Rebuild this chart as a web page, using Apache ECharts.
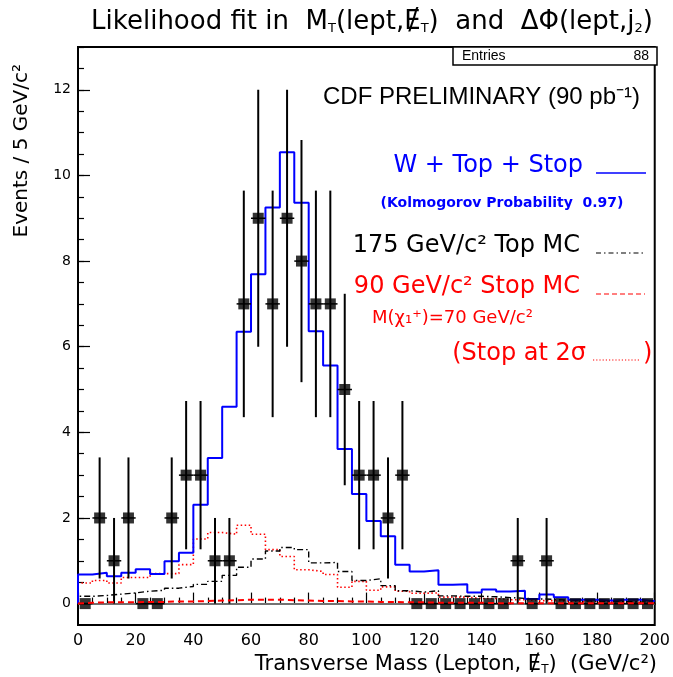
<!DOCTYPE html>
<html lang="en">
<head>
<meta charset="UTF-8">
<title>Likelihood fit in MT and dPhi</title>
<script src="https://cdn.jsdelivr.net/npm/echarts@6.0.0/dist/echarts.min.js"></script>
<style>
  html, body { margin: 0; padding: 0; background: #fff; }
  #chart { width: 673px; height: 677px; }
</style>
</head>
<body>
<div id="chart"></div>
<script>
// 40 bins of 5 GeV/c^2 from 0 to 200
var BIN_WIDTH = 5;

// observed events per bin
var dataCounts = [0, 2, 1, 2, 0, 0, 2, 3, 3, 1, 1, 7, 9, 7, 9, 8, 7, 7, 5, 3,
                  3, 2, 3, 0, 0, 0, 0, 0, 0, 0, 1, 0, 1, 0, 0, 0, 0, 0, 0, 0];

// W + Top + Stop fit
var fitTotal = [0.68, 0.72, 0.64, 0.72, 0.80, 0.69, 0.99, 1.19, 2.31, 3.40,
                4.60, 6.35, 7.69, 9.25, 10.54, 9.36, 6.36, 5.56, 3.61, 2.56,
                1.93, 1.57, 0.91, 0.75, 0.78, 0.44, 0.45, 0.26, 0.33, 0.28,
                0.30, 0.11, 0.21, 0.15, 0.09, 0.09, 0.07, 0.09, 0.09, 0.06];

// 175 GeV/c2 top MC
var topMC = [0.17, 0.19, 0.22, 0.25, 0.29, 0.31, 0.36, 0.40, 0.45, 0.52,
             0.66, 0.85, 1.04, 1.23, 1.31, 1.26, 0.95, 0.96, 0.75, 0.54,
             0.58, 0.42, 0.30, 0.27, 0.30, 0.18, 0.17, 0.17, 0.16, 0.14,
             0.12, 0.11, 0.10, 0.08, 0.07, 0.06, 0.05, 0.05, 0.04, 0.04];

// 90 GeV/c2 stop MC
var stopMC = [0.02, 0.03, 0.03, 0.03, 0.04, 0.04, 0.05, 0.05, 0.06, 0.07,
              0.08, 0.09, 0.09, 0.09, 0.08, 0.07, 0.06, 0.06, 0.05, 0.05,
              0.04, 0.04, 0.03, 0.03, 0.02, 0.02, 0.02, 0.02, 0.01, 0.01,
              0.01, 0.01, 0.01, 0.01, 0.01, 0.01, 0.01, 0.01, 0.01, 0.01];

// stop at 2 sigma
var stop2sigma = [0.48, 0.54, 0.48, 0.61, 0.61, 0.70, 0.70, 0.91, 1.51, 1.66,
                  1.62, 1.83, 1.62, 1.26, 1.10, 0.79, 0.75, 0.68, 0.38, 0.52,
                  0.31, 0.39, 0.29, 0.24, 0.25, 0.15, 0.15, 0.12, 0.12, 0.09,
                  0.09, 0.07, 0.07, 0.06, 0.05, 0.05, 0.04, 0.04, 0.03, 0.03];

var yTickLabels = [0, 2, 4, 6, 8, 10, 12];
var xTickLabels = [0, 20, 40, 60, 80, 100, 120, 140, 160, 180, 200];

var FONT = 'Liberation Sans';
var LEG_FONT = 'DejaVu Sans';

function stepData(vals) {
  var pts = [[0, 0]];
  vals.forEach(function (v, i) { pts.push([i * BIN_WIDTH, v]); });
  pts.push([vals.length * BIN_WIDTH, vals[vals.length - 1]]);
  return pts;
}

var points = dataCounts.map(function (n, i) { return [(i + 0.5) * BIN_WIDTH, n]; });

var minorY = [];
for (var v = 0; v <= 13; v += 0.5) minorY.push(v);

function histSeries(name, vals, color, width, dash, z) {
  return {
    name: name, type: 'line', step: 'end', data: stepData(vals),
    symbol: 'none', z: z, silent: true,
    lineStyle: { color: color, width: width, type: dash }
  };
}

var chart = echarts.init(document.getElementById('chart'));

var option = {
  animation: false,
  grid: { left: 78, right: 16, top: 47, bottom: 52, show: true, borderColor: '#000', borderWidth: 2 },
  xAxis: {
    type: 'value', min: 0, max: 200, interval: 20,
    axisLine: { lineStyle: { color: '#000', width: 2 } },
    axisTick: { inside: true, length: 11, lineStyle: { color: '#000', width: 1.2 } },
    minorTick: { show: true, splitNumber: 4, length: 6, lineStyle: { color: '#000', width: 1.2 } },
    splitLine: { show: false },
    axisLabel: {
      color: '#000', fontFamily: LEG_FONT, fontSize: 16, margin: 8,
      customValues: xTickLabels
    }
  },
  yAxis: [{
    type: 'value', min: -0.5, max: 13,
    axisLine: { show: true, lineStyle: { color: '#000', width: 2 } },
    axisTick: { show: true, inside: true, length: 12, customValues: yTickLabels,
                lineStyle: { color: '#000', width: 1.2 } },
    splitLine: { show: false },
    axisLabel: { color: '#000', fontFamily: LEG_FONT, fontSize: 14, margin: 7,
                 customValues: yTickLabels }
  }, {
    type: 'value', min: -0.5, max: 13, position: 'left',
    axisLine: { show: false },
    axisTick: { show: true, inside: true, length: 6, customValues: minorY,
                lineStyle: { color: '#000', width: 1.2 } },
    splitLine: { show: false },
    axisLabel: { show: false }
  }],
  series: [
    {
      type: 'line', data: [], silent: true,
      markLine: {
        silent: true, symbol: 'none', label: { show: false },
        lineStyle: { color: '#999', type: 'solid', width: 1.5 },
        data: [{ yAxis: 0 }]
      }
    },
    histSeries('Stop at 2 sigma', stop2sigma, '#ff0000', 1.6, [1.5, 2.5], 3),
    histSeries('175 GeV/c2 Top MC', topMC, '#000', 1.4, [6, 3, 1.5, 3], 3),
    histSeries('W + Top + Stop', fitTotal, '#0000ff', 2, 'solid', 4),
    {
      type: 'custom', z: 5, silent: true, data: points,
      renderItem: function (params, api) {
        var x = api.value(0), n = api.value(1), e = Math.sqrt(n);
        var l = api.coord([x - BIN_WIDTH / 2, n]);
        var r = api.coord([x + BIN_WIDTH / 2, n]);
        var kids = [{ type: 'line', shape: { x1: l[0], y1: l[1], x2: r[0], y2: r[1] },
                      style: { stroke: '#000', lineWidth: 1.5 } }];
        if (n > 0) {
          var t = api.coord([x, n + e]), b = api.coord([x, n - e]);
          kids.push({ type: 'line', shape: { x1: t[0], y1: t[1], x2: b[0], y2: b[1] },
                      style: { stroke: '#000', lineWidth: 2 } });
        }
        return { type: 'group', children: kids };
      }
    },
    {
      type: 'scatter', z: 6, silent: true, data: points,
      symbol: 'rect', symbolSize: 11, itemStyle: { color: '#000' }
    },
    histSeries('90 GeV/c2 Stop MC', stopMC, '#ff0000', 2, [6, 4], 7)
  ],
  graphic: [
    { type: 'text', x: 372, y: 22, z: 10,
      style: { text: 'Likelihood fit in  M{s|T}(lept,\u0246{s|T})  and  \u0394\u03a6(lept,j{s|2})',
               font: '26px "' + LEG_FONT + '"', fill: '#000', align: 'center', verticalAlign: 'middle',
               rich: { s: { fontSize: 13, fontFamily: LEG_FONT, verticalAlign: 'bottom', padding: [10, 0, 0, 0] } } } },
    { type: 'rect', z: 10, shape: { x: 453, y: 47, width: 204, height: 18 },
      style: { fill: '#fff', stroke: '#000', lineWidth: 1.5 } },
    { type: 'text', x: 462, y: 56, z: 11,
      style: { text: 'Entries', font: '14px "' + FONT + '"', fill: '#000', verticalAlign: 'middle' } },
    { type: 'text', x: 649, y: 56, z: 11,
      style: { text: '88', font: '14px "' + FONT + '"', fill: '#000', align: 'right', verticalAlign: 'middle' } },
    { type: 'text', x: 640, y: 97, z: 10,
      style: { text: 'CDF PRELIMINARY (90 pb\u207b\u00b9)', font: '24px "' + FONT + '"', fill: '#000',
               align: 'right', verticalAlign: 'middle' } },
    { type: 'text', x: 583, y: 166, z: 10,
      style: { text: 'W + Top + Stop', font: '24px "' + LEG_FONT + '"', fill: '#0000ff',
               align: 'right', verticalAlign: 'middle' } },
    { type: 'line', z: 10, shape: { x1: 596, y1: 173, x2: 646, y2: 173 },
      style: { stroke: '#0000ff', lineWidth: 1.5 } },
    { type: 'text', x: 502, y: 203, z: 10,
      style: { text: '(Kolmogorov Probability  0.97)', font: 'bold 14px "' + LEG_FONT + '"', fill: '#0000ff',
               align: 'center', verticalAlign: 'middle' } },
    { type: 'text', x: 580, y: 246, z: 10,
      style: { text: '175 GeV/c\u00b2 Top MC', font: '24px "' + LEG_FONT + '"', fill: '#000',
               align: 'right', verticalAlign: 'middle' } },
    { type: 'line', z: 10, shape: { x1: 596, y1: 253, x2: 645, y2: 253 },
      style: { stroke: '#000', lineWidth: 1.2, lineDash: [5, 3, 1.5, 3] } },
    { type: 'text', x: 580, y: 287, z: 10,
      style: { text: '90 GeV/c\u00b2 Stop MC', font: '24px "' + LEG_FONT + '"', fill: '#ff0000',
               align: 'right', verticalAlign: 'middle' } },
    { type: 'line', z: 10, shape: { x1: 596, y1: 294, x2: 645, y2: 294 },
      style: { stroke: '#ff0000', lineWidth: 1.2, lineDash: [5, 3] } },
    { type: 'text', x: 372, y: 318, z: 10,
      style: { text: 'M(\u03c7\u2081\u207a)=70 GeV/c\u00b2', font: '18px "' + LEG_FONT + '"', fill: '#ff0000',
               verticalAlign: 'middle' } },
    { type: 'text', x: 586, y: 354, z: 10,
      style: { text: '(Stop at 2\u03c3', font: '24px "' + LEG_FONT + '"', fill: '#ff0000',
               align: 'right', verticalAlign: 'middle' } },
    { type: 'line', z: 10, shape: { x1: 593, y1: 360, x2: 640, y2: 360 },
      style: { stroke: '#ff0000', lineWidth: 1.2, lineDash: [1.2, 2] } },
    { type: 'text', x: 643, y: 354, z: 10,
      style: { text: ')', font: '24px "' + LEG_FONT + '"', fill: '#ff0000', verticalAlign: 'middle' } },
    { type: 'text', x: 22, y: 64, rotation: Math.PI / 2, z: 10,
      style: { text: 'Events / 5 GeV/c\u00b2', font: '20px "' + LEG_FONT + '"', fill: '#000',
               align: 'right', verticalAlign: 'middle' } },
    { type: 'text', x: 657, y: 665, z: 10,
      style: { text: 'Transverse Mass (Lepton, \u0246{s|T})  (GeV/c\u00b2)', font: '21px "' + LEG_FONT + '"',
               fill: '#000', align: 'right', verticalAlign: 'middle',
               rich: { s: { fontSize: 12, fontFamily: LEG_FONT, verticalAlign: 'bottom', padding: [8, 0, 0, 0] } } } }
  ]
};

chart.setOption(option);
</script>
</body>
</html>
